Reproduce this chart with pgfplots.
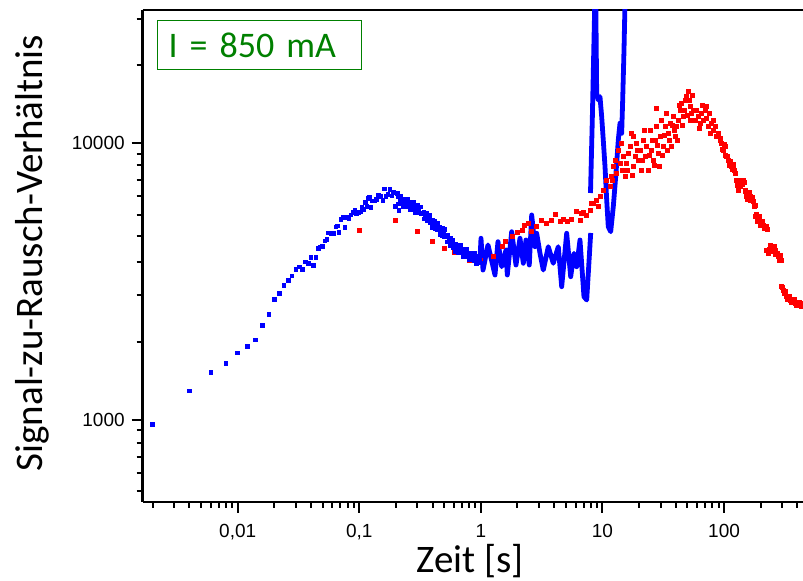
\documentclass[border=0pt]{standalone}
\usepackage{fontspec}
\usepackage{pgfplots}
\pgfplotsset{compat=1.18}
\setmainfont{Carlito}
\newfontfamily\tickfont{Liberation Sans}
\definecolor{grn}{RGB}{0,128,0}
\begin{document}
\begin{tikzpicture}
\useasboundingbox (-71.35pt,-39pt) rectangle (330.15pt,251pt);
\begin{axis}[
  at={(0,0)}, anchor=south west,
  scale only axis, width=330.15pt, height=246pt,
  xmode=log, ymode=log,
  xmin=0.001655, xmax=445.6, ymin=506, ymax=30100,
  axis x line*=box, axis y line*=left,
  axis line style={line width=1.2pt},
  every tick/.style={black, line width=1pt},
  major tick length=5.5pt, minor tick length=3pt,
  tick align=outside,
  xtick pos=left, ytick pos=left,
  xtick={0.01,0.1,1,10,100},
  xticklabels={{0,01},{0,1},1,10,100},
  minor xtick={0.002,0.003,0.004,0.005,0.006,0.007,0.008,0.009,0.02,0.03,0.04,0.05,0.06,0.07,0.08,0.09,0.2,0.3,0.4,0.5,0.6,0.7,0.8,0.9,2,3,4,5,6,7,8,9,20,30,40,50,60,70,80,90,200,300,400},
  ytick={1000,10000},
  yticklabels={1000,10000},
  minor ytick={554,642,734,824,918,1906,2817,3713,4608,5486,6408,7317,8287,9106,19020,27930},
  ticklabel style={font=\tickfont\fontsize{9.5}{11}\selectfont},
  xticklabel style={inner sep=0pt, yshift=-5.5pt},
  label style={font=\fontsize{19.5}{23}\selectfont},
  xlabel={Zeit [s]},
  ylabel={Signal-zu-Rausch-Verhältnis},
  xlabel style={at={(axis description cs:0.4957,-0.1423)}, anchor=base, inner sep=0pt},
  ylabel style={at={(axis description cs:-0.1525,0.506)}, anchor=base, inner sep=0pt},
  clip=true,
]
% red series
\addplot[only marks, mark=square*, mark size=1pt, color=red] coordinates {
(0.100,4840)(0.200,5263)(0.30,4800)(0.40,4400)(0.50,4147)(0.60,4035)(0.80,3776)(1.0,3830)(1.26,3904)(1.5,4241)
(1.6,4400)(1.8,4582)(2.0,4737)(2.2,4816)(2.3,5049)(2.45,5120)(2.62,4776)(2.88,4978)(3.16,5233)(3.48,5120)
(3.82,5263)(4.12,5532)(4.47,5189)(4.76,5294)(5.13,5189)(5.58,5294)(6.14,5639)(6.53,5263)(6.95,5592)(7.42,5486)
(7.89,5719)(8.40,6044)(8.96,6213)(9.24,5879)(6.75,5563)(8.15,6044)(9.54,6387)(10.15,6751)(10.83,7335)(11.53,6938)
(11.91,7541)(12.27,8194)(13.09,7752)(12.67,8661)(13.93,8425)(14.38,9946)(14.83,8904)(15.31,7541)(15.81,8425)(16.30,9153)
(16.84,9674)(17.39,10807)(17.92,10512)(17.92,8194)(18.51,8904)(19.11,9946)(19.70,8661)(20.34,9410)(21.01,7971)(21.66,10225)
(22.37,8904)(23.09,9674)(23.81,7971)(24.59,11110)(25.39,9410)(26.17,8661)(27.03,10225)(27.54,13306)(27.91,11417)(28.77,9153)
(29.45,8194)(29.71,10512)(30.69,12070)(31.62,9674)(32.66,11417)(33.73,12763)(34.77,10807)(35.92,11741)(37.09,9674)(38.23,12408)
(39.48,10512)(40.77,11417)(42.02,12070)(43.40,13120)(44.81,13862)(46.19,12408)(47.71,14250)(49.25,14650)(50.77,15270)(52.43,13488)
(54.15,12763)(55.81,13120)(57.64,12070)(59.53,13120)(61.36,12408)(63.37,11741)(65.44,12763)(67.45,12070)(69.66,13120)(71.94,13488)
(74.15,11417)(76.56,10807)(79.07,11741)(81.50,11110)(84.17,11417)(86.94,10512)(89.62,10807)(92.53,10225)(98.5,9410)(101.7,9674)
(105.0,8904)(111.8,8425)(119.0,8194)(122.9,7752)(126.9,7335)(130.9,6751)(135.1,6938)(143.9,7335)(148.6,6751)(153.4,6387)
(163.4,6387)(173.9,6126)(179.6,5960)
(179.6,5410)(191.1,5263)(203.9,5120)(217.0,4978)(226.6,4872)
(224.1,4102)(246.4,4160)(262.2,4102)(279.1,3880)(297.8,3776)
(297.8,3025)(316.9,2863)(337.3,2746)(370.8,2670)(407.6,2598)(440.9,2634)
(15.91,7971)(17.48,7647)(19.22,9410)(21.13,8661)(21.94,11110)(24.13,9027)(25.53,10225)(26.52,8309)(28.07,9809)(30.86,9027)
(32.05,10658)(33.93,9410)(35.24,10225)(37.29,11579)(38.73,11110)(41.00,10225)(42.58,13670)(45.07,11579)(46.81,13120)(49.55,12586)
(51.45,14250)(54.46,14854)(56.56,12070)(13.41,9410)(11.97,7335)(14.47,7971)(65.8,13676)(71.0,12272)(75.1,12763)(81.0,12070)
(62.2,11296)(52.4,12070)
(95.6,9974)(108.3,8661)(115.5,8240)(121.1,7971)(128.9,7095)(139.6,7155)(158.1,6476)(168.7,6265)
(186.5,5351)(197.4,5220)(210.1,5049)(235.0,4136)(253.9,4136)(270.7,4001)(288.3,3839)
(306.9,2943)(327.2,2800)(348.3,2708)(382.8,2641)(420.9,2619)
(94,10330)(97,9420)(100,9820)(103,8990)(106.5,8950)(110,8280)(113.5,8580)(117,7990)(120,8350)(124.9,7760)
(127.9,7000)(132,6950)(137,7300)(141.7,7050)(146,7200)(151,6700)(155.7,6250)(160.7,6600)(166,6200)(171.3,6350)(176.7,5900)
(183,5500)(188.8,5200)(194.2,5400)(200.6,5050)(207,5200)(213.5,4900)(221.8,5000)
(229.5,4000)(240.7,4250)(250,4050)(258,4230)(266.4,3950)(274.9,3990)(283.7,3760)(293,3910)
(302.3,3010)(311.9,2870)(322,2900)(332.2,2720)(342.8,2800)(359.5,2650)(376.8,2720)(395,2590)(414,2660)(430,2570)
};
% blue scatter, early times
\addplot[only marks, mark=square*, mark size=0.9pt, color=blue] coordinates {
(0.002,962)(0.004,1272)(0.006,1481)(0.008,1596)(0.010,1744)(0.012,1838)(0.014,1943)(0.016,2195)(0.018,2397)(0.020,2724)
(0.022,2854)(0.024,3060)(0.026,3180)(0.028,3306)(0.030,3494)(0.032,3562)(0.034,3494)(0.036,3712)(0.038,3673)(0.040,3849)
(0.042,3601)(0.044,3849)(0.046,4147)(0.048,4206)(0.050,4217)(0.052,4421)(0.054,4484)(0.056,4725)(0.0589,4719)(0.0619,4719)
(0.0643,4966)(0.0659,5008)(0.0681,4737)(0.0707,5293)(0.0739,5364)(0.0763,4937)(0.0788,5364)(0.0823,5307)(0.0855,5486)(0.0893,5611)
(0.0922,5719)(0.0952,5545)(0.0995,5611)(0.1033,5623)(0.1052,5848)(0.1093,5752)(0.1120,6076)(0.1157,5877)(0.1179,6301)(0.1208,6370)
(0.1248,5848)(0.1279,6162)(0.1339,6170)(0.1390,6229)(0.1433,6440)(0.1500,6386)(0.1558,6197)(0.1618,6808)(0.1658,6386)(0.1713,6516)
(0.1789,6791)(0.1848,6424)(0.1905,6624)(0.1978,5877)(0.2054,6569)(0.2121,5685)
(0.21,6390)(0.21,6020)(0.22,6410)(0.22,6040)(0.23,6230)(0.23,5880)(0.24,6250)(0.24,5890)(0.25,6260)(0.25,5900)
(0.26,6080)(0.26,5740)(0.27,6090)(0.27,5740)(0.28,6110)(0.28,5760)(0.29,5940)(0.29,5600)(0.30,5940)(0.30,5600)
(0.32,5870)(0.32,5530)(0.34,5630)(0.34,5310)(0.36,5560)(0.36,5240)(0.38,5480)(0.38,5170)(0.40,5260)(0.40,4960)
(0.42,5190)(0.42,4890)(0.44,5140)(0.44,4850)(0.46,4940)(0.46,4660)(0.48,4900)(0.48,4620)(0.50,4860)(0.50,4580)
(0.53,4640)(0.53,4380)(0.56,4530)(0.56,4270)(0.59,4450)(0.59,4200)(0.62,4290)(0.62,4050)(0.65,4270)(0.65,4030)
(0.68,4260)(0.68,4010)(0.71,4130)(0.71,3890)(0.74,4120)(0.74,3880)(0.77,4120)(0.77,3890)(0.80,4010)(0.80,3780)
(0.84,4010)(0.84,3780)(0.88,4000)(0.88,3770)(0.92,3900)(0.92,3670)(0.96,3910)(0.96,3680)(1.00,3920)(1.00,3690)
(0.215,6180)(0.235,6090)(0.255,5990)(0.275,5895)(0.295,5800)(0.31,5705)(0.33,5580)(0.35,5460)(0.37,5335)(0.39,5213)
(0.41,5097)(0.43,4993)(0.45,4897)(0.47,4802)(0.49,4715)(0.515,4612)(0.545,4476)(0.575,4342)(0.605,4246)(0.635,4180)
(0.665,4120)(0.695,4070)(0.725,4025)(0.755,3983)(0.785,3950)(0.82,3913)(0.86,3870)(0.90,3834)(0.94,3806)(0.98,3780)
};
% blue dense trace
\addplot[blue, line width=2.4pt, line join=round, mark=none] coordinates {
(0.983,3776)(1.002,4521)(1.041,3474)(1.144,4277)(1.306,3333)(1.382,4395)(1.483,3571)(1.609,4102)(1.649,3333)(1.792,4775)
(1.944,3622)(2.097,4521)(2.233,3674)(2.349,4458)(2.500,3622)(2.617,5486)(2.786,4216)(2.876,4713)(3.062,3991)(3.260,3474)
(3.584,4216)(3.938,3674)(4.330,4216)(4.618,3025)(5.077,4713)(5.477,3287)(5.832,3991)(6.135,3571)(6.531,4458)(7.044,2784)
(7.417,2708)(8.000,4725)
};
\addplot[blue, line width=2.4pt, line join=round, mark=none] coordinates {
(7.969,6585)(8.245,12070)(8.513,23460)(8.758,41950)(8.960,15070)(9.238,14250)(9.537,14650)(9.849,12410)(10.15,10225)(10.49,8193)
(10.83,6214)(11.16,4978)(11.68,4775)(12.27,5877)(12.91,7757)(13.49,10225)(13.93,11750)(14.38,10810)(14.66,14250)(15.03,21590)
(15.46,38610)
};
\node[draw=grn, line width=0.6pt, text=grn, font=\fontsize{18}{22}\selectfont,
  anchor=north west, inner xsep=5.35pt, inner ysep=0pt, minimum height=24.5pt,
  text width=91.15pt, align=left, xshift=7.3pt, yshift=-5pt] at (rel axis cs:0,1) {I = 850 mA};
\end{axis}
\end{tikzpicture}
\end{document}
